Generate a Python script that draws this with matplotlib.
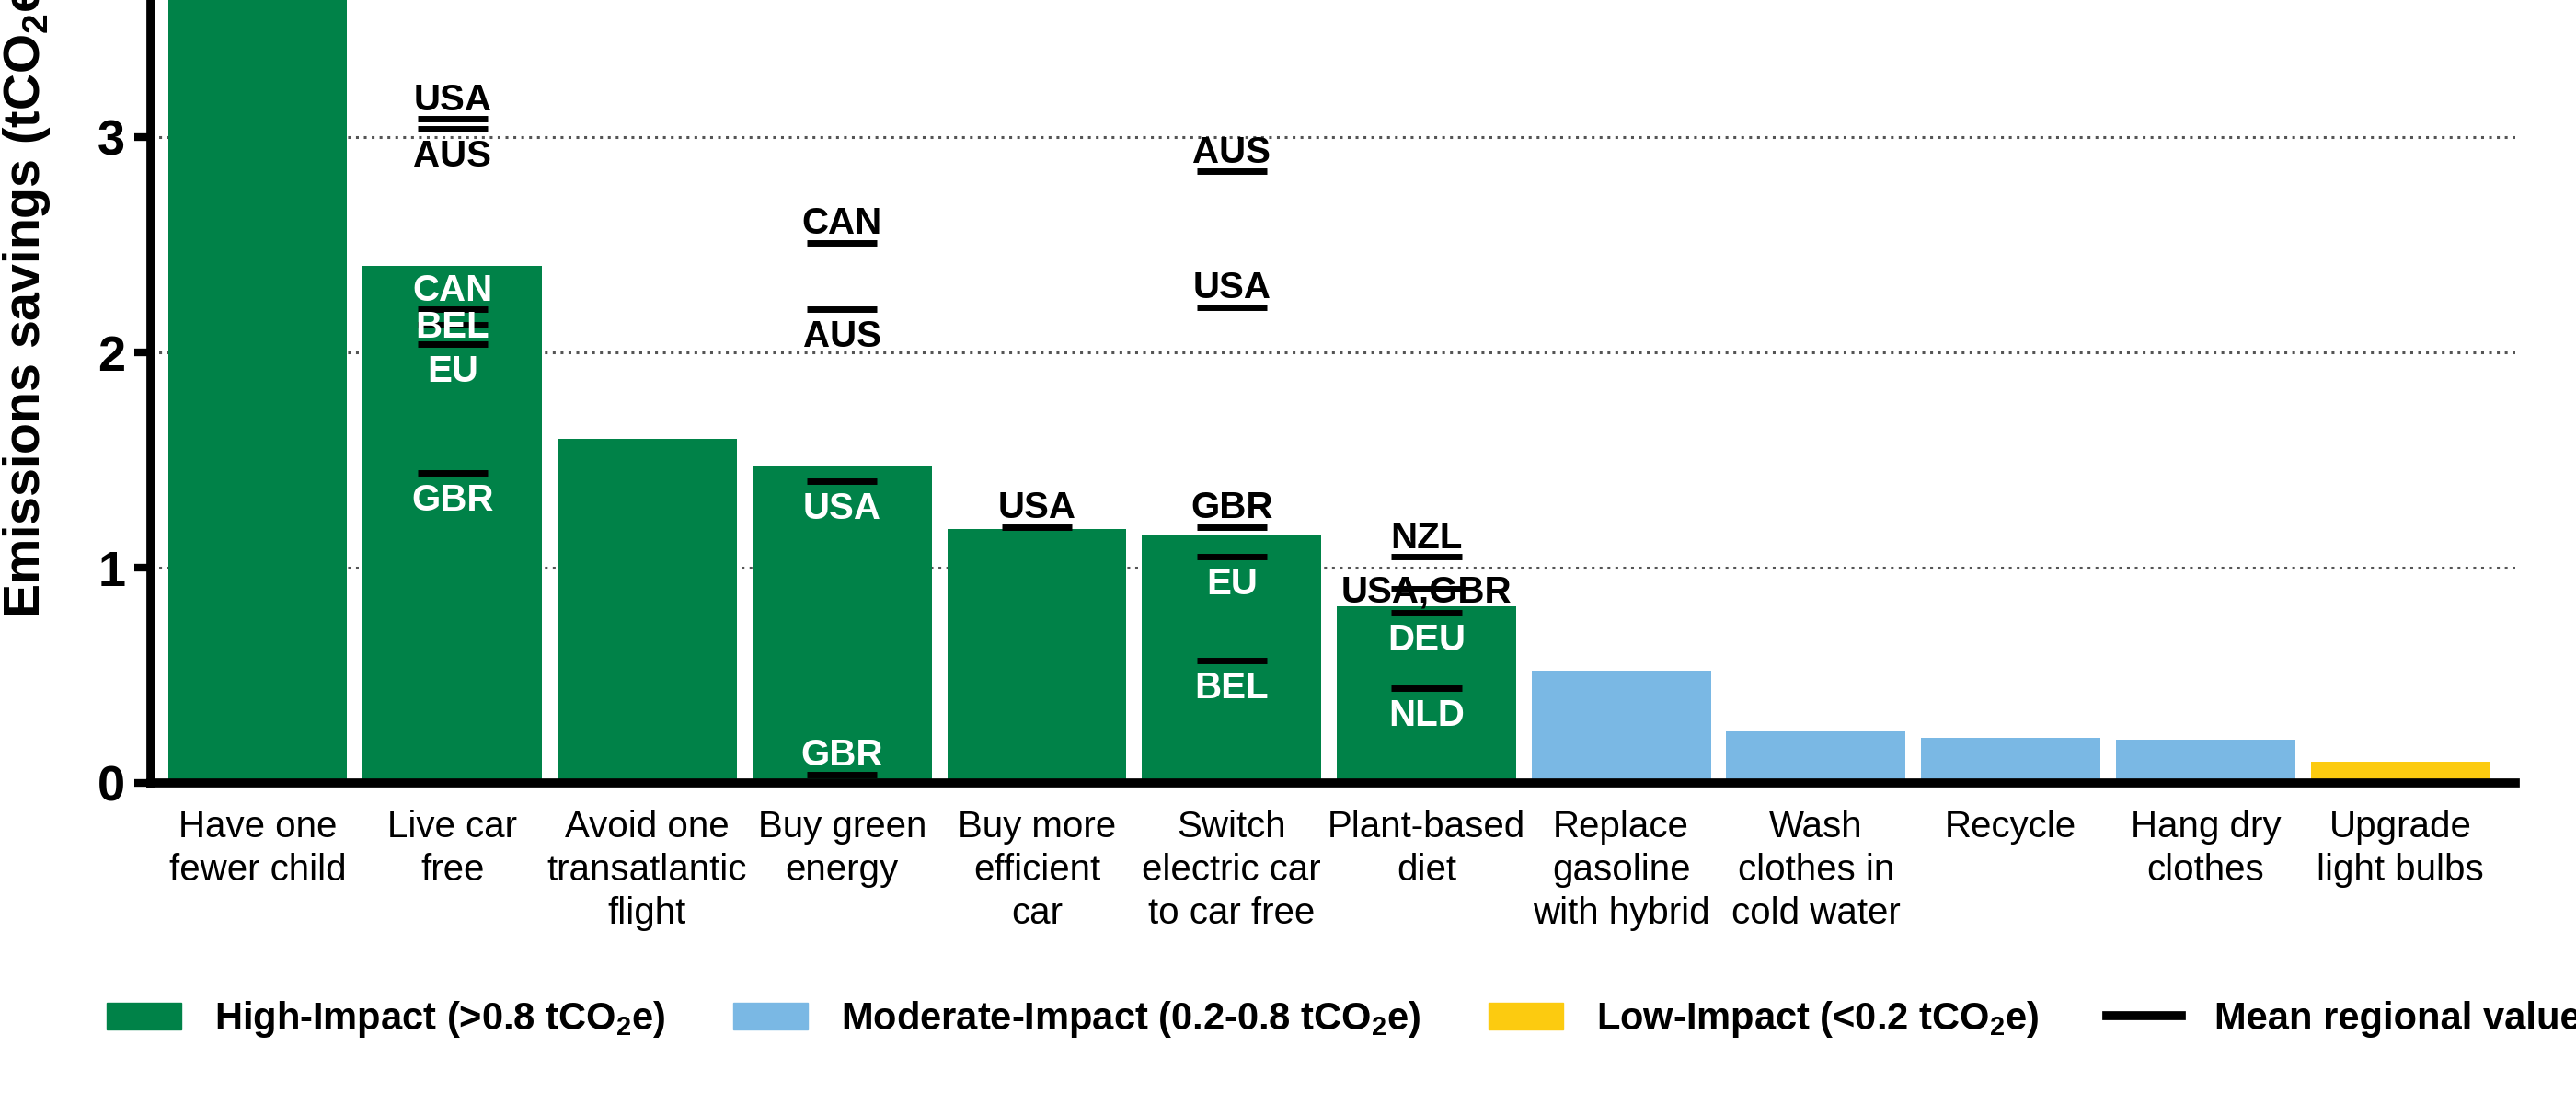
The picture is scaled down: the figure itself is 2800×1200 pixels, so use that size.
import matplotlib
matplotlib.use('Agg')
import matplotlib.pyplot as plt
from matplotlib.patches import Patch
from matplotlib.lines import Line2D

# bars
actions = ['Have one\nfewer child', 'Live car\nfree', 'Avoid one\ntransatlantic\nflight', 'Buy green\nenergy',
           'Buy more\nefficient\ncar', 'Switch\nelectric car\nto car free', 'Plant-based\ndiet',
           'Replace\ngasoline\nwith hybrid', 'Wash\nclothes in\ncold water', 'Recycle', 'Hang dry\nclothes',
           'Upgrade\nlight bulbs']
savings = [58.6, 2.40, 1.60, 1.47, 1.18, 1.15, 0.82, 0.52, 0.24, 0.21, 0.20, 0.10]  # first one runs off the top
impact = ['high', 'high', 'high', 'high', 'high', 'high', 'high',
          'moderate', 'moderate', 'moderate', 'moderate', 'low']

# regional means (bar index, region, value, where the label sits)
region_bar = [1, 1, 1, 1, 1, 1, 3, 3, 3, 3, 4, 5, 5, 5, 5, 5, 6, 6, 6, 6]
region_name = ['USA', 'AUS', 'CAN', 'BEL', 'EU', 'GBR',
               'CAN', 'AUS', 'USA', 'GBR',
               'USA',
               'AUS', 'USA', 'GBR', 'EU', 'BEL',
               'NZL', 'USA,GBR', 'DEU', 'NLD']
region_value = [3.085, 3.04, 2.20, 2.13, 2.04, 1.44,
                2.51, 2.20, 1.40, 0.04,
                1.19,
                2.84, 2.21, 1.19, 1.05, 0.57,
                1.05, 0.90, 0.79, 0.44]
region_side = ['above', 'below', 'above', 'center', 'below', 'below',
               'above', 'below', 'below', 'above',
               'above',
               'above', 'above', 'above', 'below', 'below',
               'above', 'center', 'below', 'below']

legend_labels = ['High-Impact (>0.8 tCO$_\\mathbf{2}$e)', 'Moderate-Impact (0.2-0.8 tCO$_\\mathbf{2}$e)',
                 'Low-Impact (<0.2 tCO$_\\mathbf{2}$e)', 'Mean regional value']

colors = {'high': '#008248', 'moderate': '#7ab8e4', 'low': '#fccb10'}
side_offset = {'above': 6.8, 'center': -10.4, 'below': -29.5}  # baseline offset in points

plt.rcParams['font.family'] = ['Liberation Sans', 'DejaVu Sans']
plt.rcParams['mathtext.fontset'] = 'custom'
plt.rcParams['mathtext.rm'] = 'Liberation Sans'
plt.rcParams['mathtext.bf'] = 'Liberation Sans:bold'

fig = plt.figure(figsize=(28, 12), dpi=100)
ax = fig.add_axes([164 / 2800, 1 - 851 / 1200, 2570 / 2800, 851 / 1200])

x = list(range(len(actions)))
ax.bar(x, savings, width=0.92, color=[colors[c] for c in impact], zorder=2)

ax.set_xlim(-0.548, 11.59)
ax.set_ylim(0, 3.637)

# dotted grid behind bars
ax.set_yticks([0, 1, 2, 3])
ax.yaxis.grid(True, linestyle=(0, (1, 1.8)), linewidth=2.2, color='#555555')
ax.set_axisbelow(True)

for s in ['top', 'right']:
    ax.spines[s].set_visible(False)
for s in ['left', 'bottom']:
    ax.spines[s].set_linewidth(7)
    ax.spines[s].set_zorder(4)

ax.tick_params(axis='y', length=13, width=6, pad=7, labelsize=39)
for lab in ax.get_yticklabels():
    lab.set_fontweight('bold')
ax.set_xticks(x)
ax.set_xticklabels(actions, fontsize=29, linespacing=1.3)
ax.tick_params(axis='x', length=0, pad=21)

# regional mean markers and their labels
for b, name, v, side in zip(region_bar, region_name, region_value, region_side):
    ax.hlines(v, b - 0.18, b + 0.18, color='black', linewidth=5, zorder=3)
    txt_color = 'white' if v < savings[b] else 'black'
    ax.annotate(name, (b, v), xytext=(0, side_offset[side]), textcoords='offset points',
                ha='center', va='baseline', fontsize=29, fontweight='bold', color=txt_color, zorder=5)

fig.text(0.0104, 1 - 672 / 1200, 'Emissions savings (tCO$_\\mathbf{2}$e)', rotation=90,
         ha='center', va='bottom', fontsize=40, fontweight='bold')

handles = [Patch(color=colors['high']), Patch(color=colors['moderate']), Patch(color=colors['low']),
           Line2D([], [], color='black', linewidth=7)]
fig.legend(handles, legend_labels, loc='center left', bbox_to_anchor=(116 / 2800, 1 - 1108 / 1200),
           ncol=4, frameon=False, borderpad=0, borderaxespad=0, handlelength=1.95, handleheight=0.7,
           handletextpad=0.86, columnspacing=1.76, prop={'weight': 'bold', 'size': 30})

fig.savefig('out.png', dpi=100)
